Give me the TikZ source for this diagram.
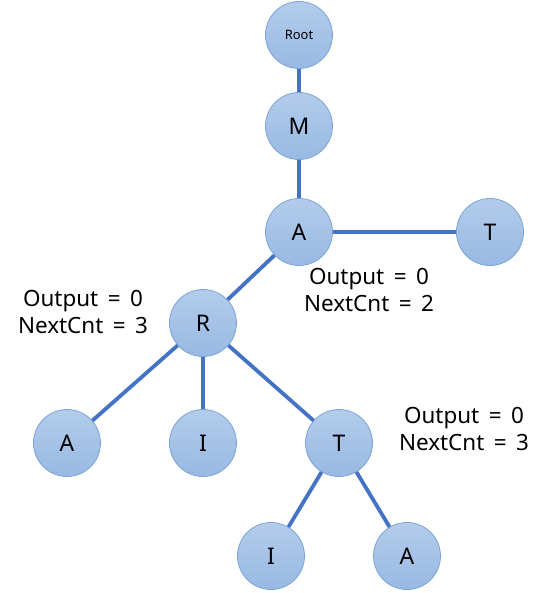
\documentclass[tikz,border=0pt]{standalone}
\usepackage{fontspec}
\setmainfont{Noto Sans}
\usepackage{xcolor}
\usetikzlibrary{positioning}
\definecolor{edgeblue}{HTML}{4472C4}
\definecolor{nodetop}{HTML}{B3CCEA}
\definecolor{nodebot}{HTML}{98B9E3}
\definecolor{nodeline}{HTML}{7BA4D6}
\newcommand{\infofont}{\fontsize{22.5}{27}\selectfont\spaceskip 9.5bp\relax}

\begin{document}
\begin{tikzpicture}[
    x=1bp, y=-1bp,
    trie/.style={circle, draw=nodeline, line width=0.8bp,
                 top color=nodetop, bottom color=nodebot,
                 minimum size=67bp, inner sep=0pt,
                 font=\fontsize{23}{27}\selectfont},
    link/.style={edgeblue, line width=3.8bp},
    info/.style={align=center, font=\infofont}
]
\useasboundingbox (0,0) rectangle (546,593);

\node[trie, font=\fontsize{13}{15}\selectfont] (root) at (299,35) {Root};
\node[trie] (m)   at (299,126) {M};
\node[trie] (a)   at (299,232) {A};
\node[trie] (t)   at (490,232) {T};
\node[trie] (r)   at (203,323) {R};
\node[trie] (ra)  at (67,443)  {A};
\node[trie] (ri)  at (203,443) {I};
\node[trie] (rt)  at (339,443) {T};
\node[trie] (ti)  at (271,556) {I};
\node[trie] (ta)  at (407,556) {A};

\draw[link] (root) -- (m);
\draw[link] (m) -- (a);
\draw[link] (a) -- (t);
\draw[link] (a) -- (r);
\draw[link] (r) -- (ra);
\draw[link] (r) -- (ri);
\draw[link] (r) -- (rt);
\draw[link] (rt) -- (ti);
\draw[link] (rt) -- (ta);

\node[info] (ainfo) at (369,290) {Output = 0\\NextCnt = 2};
\node[info] (rinfo) at (83,312)  {Output = 0\\NextCnt = 3};
\node[info] (tinfo) at (464,429) {Output = 0\\NextCnt = 3};
\end{tikzpicture}
\end{document}
